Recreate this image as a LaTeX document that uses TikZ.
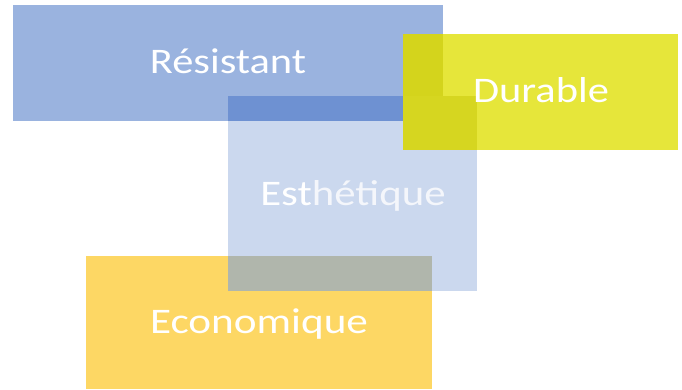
\documentclass[tikz,border=0pt]{standalone}
\usepackage{fontspec}
\setmainfont{Carlito}
\definecolor{cblue}{HTML}{9AB3DF}
\definecolor{cyel}{HTML}{E6E63A}
\definecolor{cyelblue}{HTML}{D4D41C}
\definecolor{cyelesth}{HTML}{D6D620}
\definecolor{cesth}{HTML}{CBD8EE}
\definecolor{cdark}{HTML}{6E91D2}
\definecolor{cgold}{HTML}{FDD764}
\definecolor{cgrey}{HTML}{B0B6AC}
\begin{document}
\begin{tikzpicture}[x=1pt,y=-1pt,
  box/.style={rectangle,inner sep=0pt,outer sep=0pt,anchor=north west,draw=none},
  lbl/.style={anchor=base,text=white,font=\fontsize{36}{40}\selectfont,inner sep=0pt}]
\useasboundingbox (0,0) rectangle (682,389);
\node[box,fill=cblue,minimum width=430pt,minimum height=116pt] (res) at (13,5) {};
\node[box,fill=cesth,minimum width=249pt,minimum height=195pt] (est) at (228,96) {};
\fill[cdark] (est.north west) rectangle (res.south east);
\node[box,fill=cyel,minimum width=275pt,minimum height=116pt] (dur) at (403,34) {};
\fill[cyelblue] (dur.north west) rectangle (res.south east);
\fill[cyelesth] (dur.west |- est.north) rectangle (est.east |- dur.south);
\node[box,fill=cgold,minimum width=346pt,minimum height=133pt] (eco) at (86,256) {};
\fill[cgrey] (est.west |- eco.north) rectangle (eco.east |- est.south);
\node[lbl] (tres) at (228,73) {\scalebox{1.18}[1]{Résistant}};
\node[lbl] (tdur) at (541,102) {\scalebox{1.18}[1]{Durable}};
\node[lbl] (test) at (353,205) {\scalebox{1.19}[1]{Est\textcolor{white!78!cesth}{hétique}}};
\node[lbl] (teco) at (259,333) {\scalebox{1.2}[1]{Economique}};
\end{tikzpicture}
\end{document}
